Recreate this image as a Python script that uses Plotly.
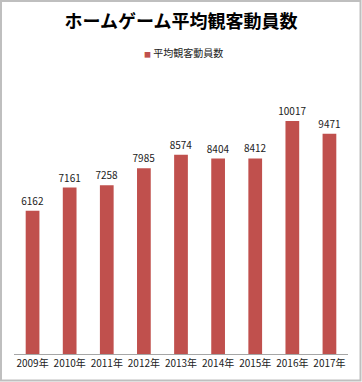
import plotly.graph_objects as go

years = ["2009年", "2010年", "2011年", "2012年", "2013年", "2014年", "2015年", "2016年", "2017年"]
attendance = [6162, 7161, 7258, 7985, 8574, 8404, 8412, 10017, 9471]
series_name = "平均観客動員数"
title_text = "ホームゲーム平均観客動員数"
bar_color = "#C0504D"

W, H = 362, 382
L, R, T, B = 14, 14, 75, 28
pw, ph = W - L - R, H - T - B

def px(x):
    return (x - L) / pw

def py(y):
    return (H - B - y) / ph

jp = "Noto Sans CJK JP, sans-serif"

fig = go.Figure()
fig.add_trace(go.Bar(
    x=years, y=attendance, name=series_name,
    marker=dict(color=bar_color, line=dict(width=0)),
    width=0.37,
    text=[str(v) for v in attendance], textposition="outside",
    constraintext="none",
    textfont=dict(family=jp, size=10, color="#222222"),
    cliponaxis=False, showlegend=False,
))

fig.update_layout(
    width=W, height=H,
    margin=dict(l=L, r=R, t=T, b=B),
    paper_bgcolor="white", plot_bgcolor="white",
    title=dict(text="<b>" + title_text + "</b>", x=0.5, xanchor="center",
               y=1 - 22 / H, yanchor="middle", yref="container",
               font=dict(family=jp, size=18, color="black")),
    xaxis=dict(showline=True, linecolor="#A6A6A6", linewidth=1, ticks="",
               tickfont=dict(family=jp, size=10, color="#222222"), showgrid=False),
    yaxis=dict(range=[0, 12000], visible=False, showgrid=False),
    annotations=[dict(
        xref="paper", yref="paper", x=px(183), y=py(53), xanchor="center", yanchor="middle",
        showarrow=False,
        text='<span style="color:%s;font-size:7px">■</span> %s' % (bar_color, series_name),
        font=dict(family=jp, size=10, color="#222222"),
    )],
    shapes=[dict(type="rect", xref="paper", yref="paper",
                 x0=px(1), x1=px(360.5), y0=py(380.5), y1=py(1),
                 line=dict(color="#BFBFBF", width=2), fillcolor="rgba(0,0,0,0)")],
)

fig.write_html("out.html", config={"displayModeBar": False},
               post_script="document.body.style.margin='0';document.body.style.overflow='hidden';")
